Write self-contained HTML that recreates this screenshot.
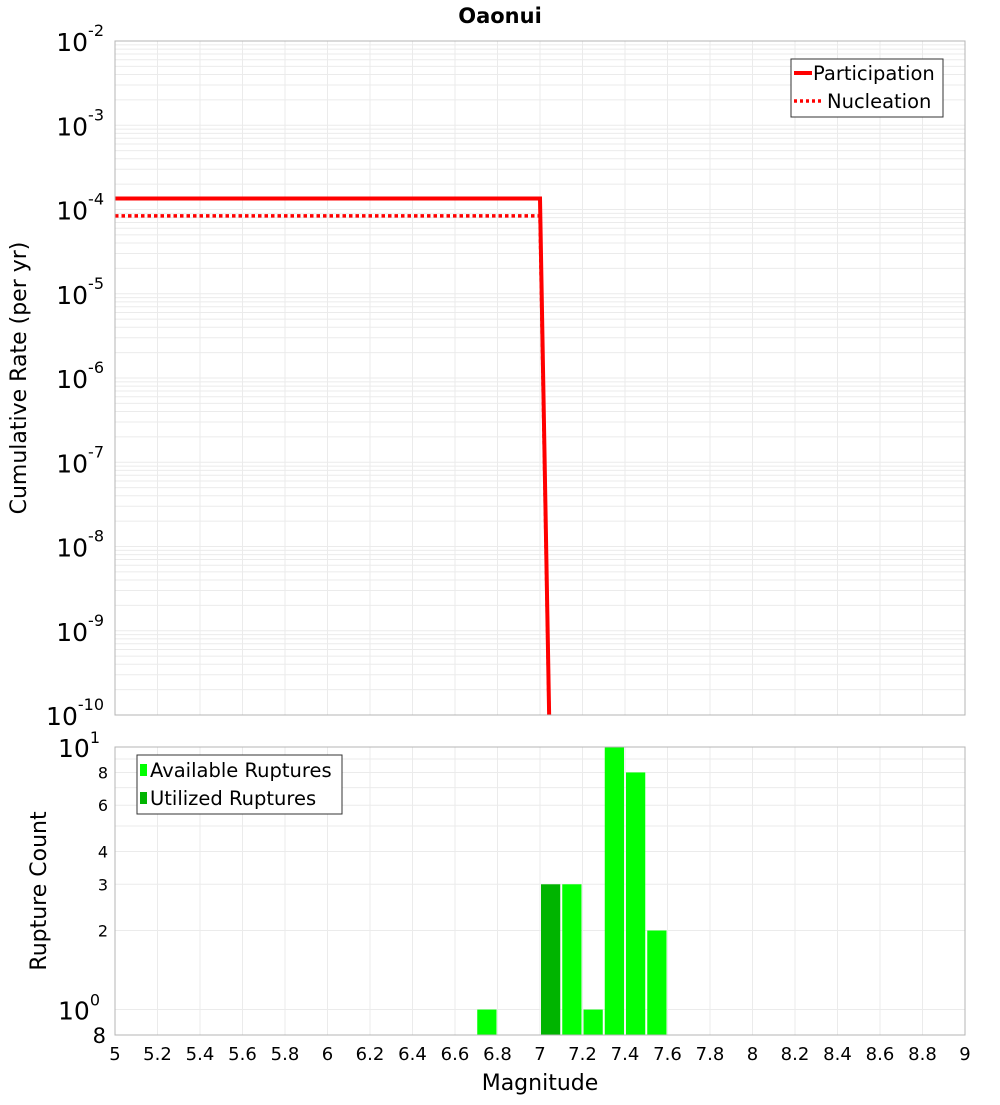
<!DOCTYPE html>
<html><head><meta charset="utf-8"><style>
body{margin:0;background:#fff;font-family:"Liberation Sans","DejaVu Sans",sans-serif}
svg text{font-family:"DejaVu Sans","Liberation Sans",sans-serif}
</style></head><body>
<svg id="c" width="1000" height="1100" xmlns="http://www.w3.org/2000/svg">
<text x="500" y="23" text-anchor="middle" font-size="21" font-weight="bold">Oaonui</text>
<text transform="translate(26,378) rotate(-90)" text-anchor="middle" font-size="22">Cumulative Rate (per yr)</text>
<text transform="translate(46,891) rotate(-90)" text-anchor="middle" font-size="22">Rupture Count</text>
<text x="540" y="1090" text-anchor="middle" font-size="22">Magnitude</text>
</svg>
<script>
const partMags=[5,7.0,7.05];
const partRates=[1.35e-4,1.35e-4,1e-11];
const nuclMags=[5,7.0,7.05];
const nuclRates=[8.4e-5,8.4e-5,1e-11];
const barMags=[6.75,7.05,7.15,7.25,7.35,7.45,7.55];
const barCounts=[1,3,3,1,10,8,2];
const barUtilized=[false,true,false,false,false,false,false];
const xTicks=[5,5.2,5.4,5.6,5.8,6,6.2,6.4,6.6,6.8,7,7.2,7.4,7.6,7.8,8,8.2,8.4,8.6,8.8,9];
const topExps=[-2,-3,-4,-5,-6,-7,-8,-9,-10];
const botTicks=[2,3,4,6,8];

const svg=document.getElementById('c');const NS='http://www.w3.org/2000/svg';
function el(t,a,p){const e=document.createElementNS(NS,t);for(const k in a)e.setAttribute(k,a[k]);(p||svg).appendChild(e);return e;}
const X0=115,X1=965;
const xs=m=>X0+(m-5)/(9-5)*(X1-X0);
const T0=41,T1=715;
const yt=v=>T0+(-2-Math.log10(v))/8*(T1-T0);
const B0=747,B1=1035;
const yb=v=>B0+(1-Math.log10(v))/(1-Math.log10(0.8))*(B1-B0);

const defs=el('defs',{});
const cp=el('clipPath',{id:'ct'},defs);el('rect',{x:X0,y:T0,width:X1-X0,height:T1-T0},cp);

const gt=el('g',{});


for(let e=-10;e<-2;e++)for(let k=2;k<=9;k++){const y=yt(k*Math.pow(10,e));el('line',{x1:X0,x2:X1,y1:y,y2:y,stroke:'#ebebeb','stroke-width':1},gt);}
topExps.forEach(e=>{const y=yt(Math.pow(10,e));el('line',{x1:X0,x2:X1,y1:y,y2:y,stroke:'#ebebeb'},gt);});
xTicks.forEach(m=>{el('line',{x1:xs(m),x2:xs(m),y1:T0,y2:T1,stroke:'#ebebeb'},gt);el('line',{x1:xs(m),x2:xs(m),y1:B0,y2:B1,stroke:'#ebebeb'},gt);});
for(let k=1;k<=10;k++){const y=yb(k);el('line',{x1:X0,x2:X1,y1:y,y2:y,stroke:'#ebebeb'},gt);}

topExps.forEach(e=>{const y=yt(Math.pow(10,e));
 const t=el('text',{x:104,y:y+10,'text-anchor':'end','font-size':25});
 
 
 t.appendChild(document.createTextNode('10'));
 const s=el('tspan',{dy:-15,'font-size':16},t);s.textContent=String(e);
});
[[10,'10','1'],[1,'10','0']].forEach(([v,b,ex])=>{const t=el('text',{x:100,y:yb(v)+10,'text-anchor':'end','font-size':25});
 
 
 t.appendChild(document.createTextNode(b));const s=el('tspan',{dy:-14,'font-size':16},t);s.textContent=ex;});
el('text',{x:106,y:B1+8,'text-anchor':'end','font-size':21}).textContent='8';
botTicks.forEach(v=>{const t=el('text',{x:108,y:yb(v)+6,'text-anchor':'end','font-size':16});
 
 
 t.textContent=v;});
xTicks.forEach(m=>{const t=el('text',{x:xs(m),y:1060,'text-anchor':'middle','font-size':18});
 
 
 t.textContent=String(m);});

function pts(ms,vs){return ms.map((m,i)=>xs(m)+','+yt(vs[i])).join(' ');}
const pl=el('polyline',{points:pts(partMags,partRates),fill:'none',stroke:'#ff0000','stroke-width':4,'clip-path':'url(#ct)'});


const nl=el('polyline',{points:pts(nuclMags,nuclRates),fill:'none',stroke:'#ff0000','stroke-width':3.5,'stroke-dasharray':'3.5,3','clip-path':'url(#ct)'});



barMags.forEach((m,i)=>{const x=xs(m-0.05)+1,w=xs(m+0.05)-xs(m-0.05)-2,y=yb(barCounts[i]);
 const r=el('rect',{x:x,y:y,width:w,height:B1-y,fill:barUtilized[i]?'#00b400':'#00ff00'});
 
 });

el('rect',{x:X0,y:T0,width:X1-X0,height:T1-T0,fill:'none',stroke:'#b4b4b4'});
el('rect',{x:X0,y:B0,width:X1-X0,height:B1-B0,fill:'none',stroke:'#b4b4b4'});

const lg=el('g',{});


el('rect',{x:791,y:59,width:152,height:58,fill:'#fff',stroke:'#333'},lg);
el('line',{x1:794,x2:812,y1:73,y2:73,stroke:'#f00','stroke-width':4},lg);
el('line',{x1:794,x2:822,y1:101,y2:101,stroke:'#f00','stroke-width':3.5,'stroke-dasharray':'3,3'},lg);
el('text',{x:813,y:80,'font-size':19.5},lg).textContent='Participation';
el('text',{x:827,y:108,'font-size':19.5},lg).textContent='Nucleation';
const lb=el('g',{});


el('rect',{x:137,y:755,width:205,height:59,fill:'#fff',stroke:'#333'},lb);
el('rect',{x:140,y:764,width:7,height:12,fill:'#00ff00'},lb);
el('rect',{x:140,y:792,width:7,height:12,fill:'#00b400'},lb);
el('text',{x:150,y:777,'font-size':19.5},lb).textContent='Available Ruptures';
el('text',{x:150,y:805,'font-size':19.5},lb).textContent='Utilized Ruptures';
</script>
</body></html>
